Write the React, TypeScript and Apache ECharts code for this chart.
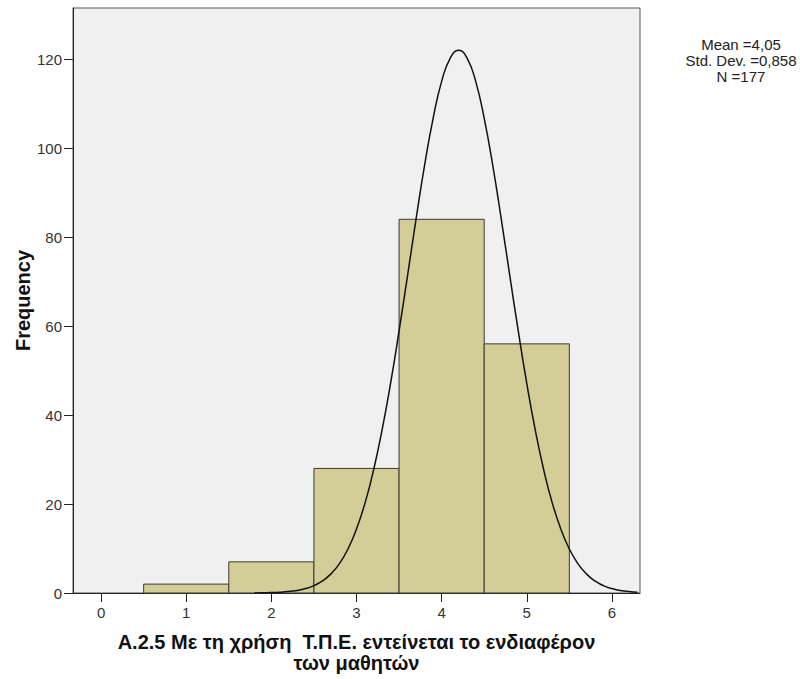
import React, { useEffect, useRef } from "react";
import * as echarts from "echarts";

const binCenters = [1, 2, 3, 4, 5];
const frequencies = [2, 7, 28, 84, 56];
const xTicks = [0, 1, 2, 3, 4, 5, 6];
const yTicks = [0, 20, 40, 60, 80, 100, 120];
const curveX = [1.8, 1.9, 2.0, 2.1, 2.2, 2.3, 2.4, 2.5, 2.6, 2.7, 2.8, 2.9, 3.0, 3.1, 3.2, 3.3, 3.4, 3.5, 3.6, 3.7, 3.8, 3.9, 4.0, 4.1, 4.2, 4.3, 4.4, 4.5, 4.6, 4.7, 4.8, 4.9, 5.0, 5.1, 5.2, 5.3, 5.4, 5.5, 5.6, 5.7, 5.8, 5.9, 6.0, 6.1, 6.2, 6.3];
const curveY = [0.02, 0.05, 0.09, 0.17, 0.32, 0.57, 0.99, 1.66, 2.7, 4.3, 6.6, 9.9, 14.4, 20.2, 27.6, 36.6, 47.1, 58.9, 71.4, 84.1, 96.2, 106.7, 115.0, 120.2, 122, 120.2, 115.0, 106.7, 96.2, 84.1, 71.4, 58.9, 47.1, 36.6, 27.6, 20.2, 14.4, 9.9, 6.6, 4.3, 2.7, 1.66, 0.99, 0.57, 0.32, 0.17];
const statsLines = ["Mean =4,05", "Std. Dev. =0,858", "N =177"];
const xTitle = "A.2.5 Με τη χρήση  Τ.Π.Ε. εντείνεται το ενδιαφέρον\nτων μαθητών";
const yTitle = "Frequency";

export default function App() {
  const ref = useRef<HTMLDivElement>(null);
  useEffect(() => {
    if (!ref.current) return;
    const chart = echarts.init(ref.current, null, { renderer: "svg" });
    const font = "'Liberation Sans', Arial, sans-serif";
    chart.setOption({
      animation: false,
      backgroundColor: "#ffffff",
      textStyle: { fontFamily: font },
      grid: {
        left: 73,
        top: 8,
        right: 160,
        bottom: 86,
        show: true,
        backgroundColor: "#f0f0f0",
        borderColor: "#555555",
        borderWidth: 1,
      },
      xAxis: {
        type: "value",
        min: -0.33,
        max: 6.33,
        name: xTitle,
        nameLocation: "middle",
        nameGap: 38,
        nameTextStyle: { fontSize: 20, fontWeight: "bold", color: "#111", fontFamily: font, lineHeight: 21 },
        axisLine: { show: true, onZero: false, lineStyle: { color: "#222", width: 1 } },
        axisTick: { show: true, length: 9, customValues: xTicks, lineStyle: { color: "#222" } },
        axisLabel: { customValues: xTicks, fontSize: 15, color: "#333", margin: 12, fontFamily: font },
        splitLine: { show: false },
      },
      yAxis: {
        type: "value",
        min: 0,
        max: 131.5,
        name: yTitle,
        nameLocation: "middle",
        nameGap: 40,
        nameMoveOverlap: false,
        nameTextStyle: { fontSize: 20, fontWeight: "bold", color: "#111", fontFamily: font },
        axisLine: { show: true, onZero: false, lineStyle: { color: "#222", width: 1 } },
        axisTick: { show: true, length: 9, customValues: yTicks, lineStyle: { color: "#222" } },
        axisLabel: { customValues: yTicks, fontSize: 15, color: "#333", margin: 11, fontFamily: font },
        splitLine: { show: false },
      },
      graphic: [
        {
          type: "text",
          x: 741,
          y: 36,
          style: {
            text: statsLines.join("\n"),
            font: "15px " + font,
            fill: "#222",
            textAlign: "center",
            lineHeight: 16,
          },
        },
      ],
      series: [
        {
          type: "custom",
          data: binCenters.map((c, i) => [c, frequencies[i]]),
          renderItem: (params: any, api: any) => {
            const c = api.value(0);
            const v = api.value(1);
            const p1 = api.coord([c - 0.5, v]);
            const p2 = api.coord([c + 0.5, 0]);
            return {
              type: "rect",
              shape: { x: p1[0], y: p1[1], width: p2[0] - p1[0], height: p2[1] - p1[1] },
              style: { fill: "#d3ce98", stroke: "#3a3a30", lineWidth: 1 },
            };
          },
          z: 2,
        },
        {
          type: "line",
          data: curveX.map((x, i) => [x, curveY[i]]),
          smooth: true,
          showSymbol: false,
          lineStyle: { color: "#111", width: 1.5 },
          z: 3,
        },
      ],
    });
    return () => chart.dispose();
  }, []);
  return <div ref={ref} style={{ position: "fixed", left: 0, top: 0, width: 800, height: 679 }} />;
}
